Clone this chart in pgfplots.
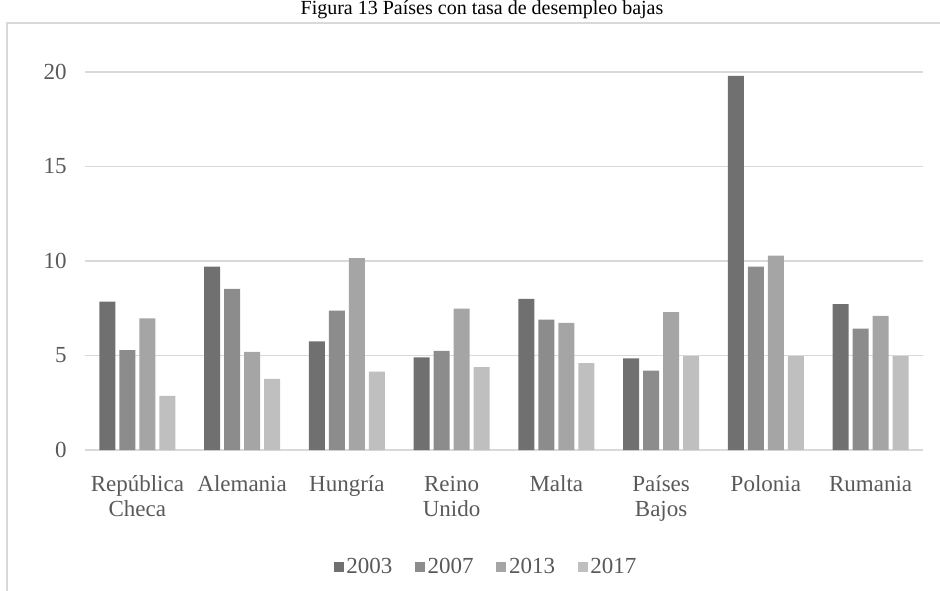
\documentclass[border=0pt]{standalone}
\usepackage{fontspec}
\setmainfont{Liberation Serif}
\usepackage{pgfplots}
\pgfplotsset{compat=1.18}
\definecolor{cA}{HTML}{707070}
\definecolor{cB}{HTML}{8C8C8C}
\definecolor{cC}{HTML}{A5A5A5}
\definecolor{cD}{HTML}{BFBFBF}
\definecolor{txt}{HTML}{595959}
\definecolor{gridc}{HTML}{D9D9D9}
\begin{document}
\begin{tikzpicture}
\draw[gridc, line width=0.9pt] (5.25pt,-20pt) -- (5.25pt,425.25pt) -- (730pt,425.25pt);
\node[anchor=base, inner sep=0pt, font=\fontsize{15}{17}\selectfont, text=black] at (361.5pt,431.25pt) {Figura 13 Países con tasa de desempleo bajas};
\begin{axis}[
  at={(63.75pt,105pt)}, anchor=south west,
  width=628.5pt, height=283.5pt, scale only axis,
  xmin=-0.5, xmax=7.5, ymin=0, ymax=20,
  ybar=3pt, bar width=12pt,
  xtick={0,1,2,3,4,5,6,7},
  xticklabels={{\strut República\\Checa},{\strut Alemania},{\strut Hungría},{\strut Reino\\Unido},{\strut Malta},{\strut Países\\Bajos},{\strut Polonia},{\strut Rumania}},
  ytick={0,5,10,15,20},
  ymajorgrids, grid style={gridc, line width=1pt},
  axis line style={draw=none},
  major tick length=0pt,
  tick label style={font=\fontsize{17.25}{18.75}\selectfont, text=txt},
  xticklabel style={align=center, inner sep=0pt, anchor=north, yshift=-17.6pt},
  yticklabel style={inner sep=0pt, anchor=east, xshift=-13.5pt},
  /pgf/number format/assume math mode=true,
  legend style={at={(0.479,-0.3095)}, anchor=center, draw=none, fill=none,
    legend columns=4, font=\fontsize{17.25}{18.75}\selectfont, text=txt,
    /tikz/every even column/.append style={column sep=15pt}},
  legend cell align=left,
]
\addplot[fill=cA, draw=none, legend image code/.code={\fill[cA] (0pt,-3.75pt) rectangle (7.5pt,3.75pt);}] coordinates {(0,7.85) (1,9.70) (2,5.75) (3,4.90) (4,8.00) (5,4.85) (6,19.80) (7,7.72)};
\addplot[fill=cB, draw=none, legend image code/.code={\fill[cB] (0pt,-3.75pt) rectangle (7.5pt,3.75pt);}] coordinates {(0,5.29) (1,8.52) (2,7.37) (3,5.25) (4,6.90) (5,4.20) (6,9.70) (7,6.42)};
\addplot[fill=cC, draw=none, legend image code/.code={\fill[cC] (0pt,-3.75pt) rectangle (7.5pt,3.75pt);}] coordinates {(0,6.97) (1,5.19) (2,10.15) (3,7.48) (4,6.73) (5,7.29) (6,10.28) (7,7.09)};
\addplot[fill=cD, draw=none, legend image code/.code={\fill[cD] (0pt,-3.75pt) rectangle (7.5pt,3.75pt);}] coordinates {(0,2.87) (1,3.76) (2,4.15) (3,4.38) (4,4.60) (5,4.97) (6,4.97) (7,4.97)};
\legend{2003,2007,2013,2017}
\end{axis}
\pgfresetboundingbox
\path[use as bounding box] (0pt,0pt) rectangle (705pt,442.5pt);
\end{tikzpicture}
\end{document}
